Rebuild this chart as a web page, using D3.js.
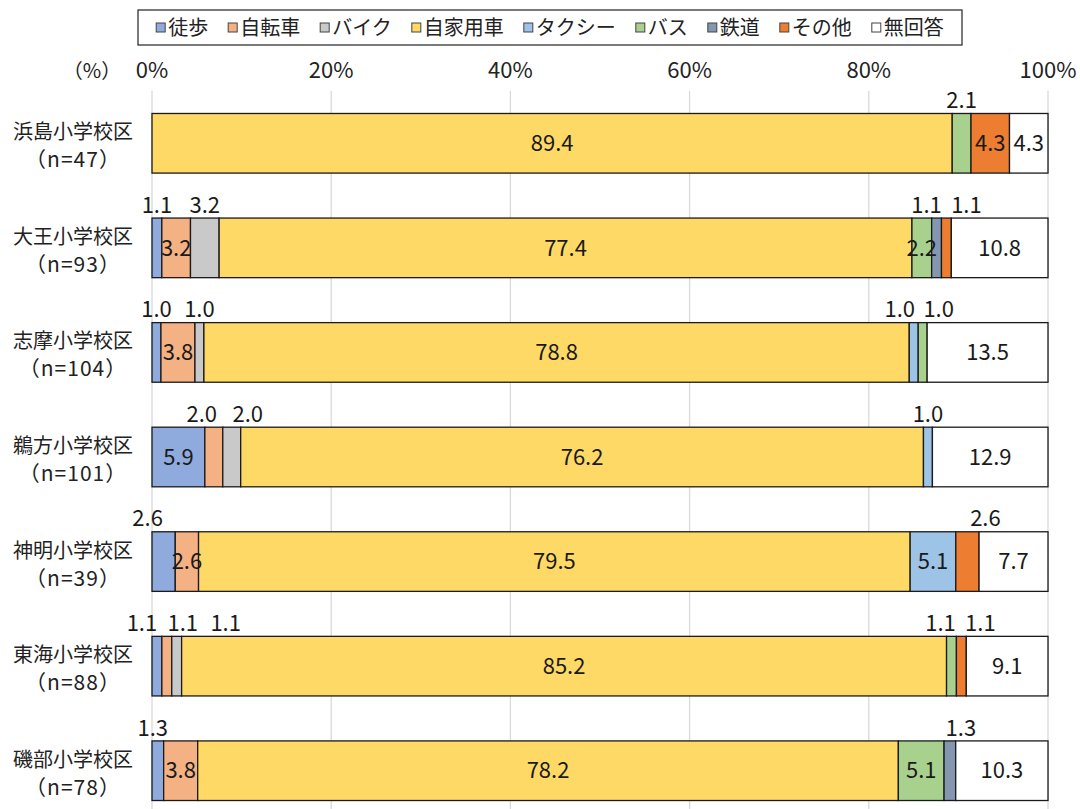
<!DOCTYPE html>
<html>
<head>
<meta charset="utf-8">
<script src="https://cdn.jsdelivr.net/npm/d3@7"></script>
<style>
  body { margin: 0; background: #fff; }
  svg { display: block; font-family: "Noto Sans CJK JP", "Noto Sans", sans-serif; }
</style>
</head>
<body>
<div id="chart"></div>
<script>
// categories
const schools = ["浜島小学校区", "大王小学校区", "志摩小学校区", "鵜方小学校区", "神明小学校区", "東海小学校区", "磯部小学校区"];
const sampleSizes = [47, 93, 104, 101, 39, 88, 78];
const modes = ["徒歩", "自転車", "バイク", "自家用車", "タクシー", "バス", "鉄道", "その他", "無回答"];
const tickLabels = ["0%", "20%", "40%", "60%", "80%", "100%"];

// series values (%), one per school
const walk      = [0, 1.1, 1.0, 5.9, 2.6, 1.1, 1.3];
const bicycle   = [0, 3.2, 3.8, 2.0, 2.6, 1.1, 3.8];
const motorbike = [0, 3.2, 1.0, 2.0, 0, 1.1, 0];
const car       = [89.4, 77.4, 78.8, 76.2, 79.5, 85.2, 78.2];
const taxi      = [0, 0, 1.0, 1.0, 5.1, 0, 0];
const bus       = [2.1, 2.2, 1.0, 0, 0, 1.1, 5.1];
const rail      = [0, 1.1, 0, 0, 0, 0, 1.3];
const other     = [4.3, 1.1, 0, 0, 2.6, 1.1, 0];
const noAnswer  = [4.3, 10.8, 13.5, 12.9, 7.7, 9.1, 10.3];

const seriesValues = [walk, bicycle, motorbike, car, taxi, bus, rail, other, noAnswer];
const colors = ["#8faadc", "#f4b183", "#c9c9c9", "#ffd966", "#9dc3e6", "#a9d18e", "#8497b0", "#ed7d31", "#ffffff"];

// labels drawn above the bar instead of inside: [school index, mode, horizontal nudge px]
const raisedLabels = [
  [0, "バス", 0],
  [1, "徒歩", 0], [1, "バイク", 0], [1, "鉄道", -10], [1, "その他", 20],
  [2, "徒歩", 0], [2, "バイク", 0], [2, "タクシー", -14], [2, "バス", 16],
  [3, "自転車", -12], [3, "バイク", 16], [3, "タクシー", 0],
  [4, "徒歩", -16], [4, "その他", 18],
  [5, "徒歩", -15], [5, "自転車", 16], [5, "バイク", 49], [5, "バス", -11], [5, "その他", 19],
  [6, "徒歩", -5], [6, "鉄道", 11]
];

const width = 1080, height = 809;
const plotLeft = 152, plotRight = 1048, plotTop = 91, plotBottom = 823;

// build table for d3.stack
const table = schools.map((s, i) => {
  const row = { school: s };
  modes.forEach((m, j) => { row[m] = seriesValues[j][i]; });
  return row;
});

const stacked = d3.stack()
  .keys(modes)
  .offset(d3.stackOffsetExpand)(table);

const x = d3.scaleLinear().domain([0, 1]).range([plotLeft, plotRight]);
const y = d3.scaleBand().domain(schools).range([plotTop, plotBottom])
  .paddingInner(0.43).paddingOuter(0.215);
const color = d3.scaleOrdinal().domain(modes).range(colors);

const svg = d3.select("#chart").append("svg")
  .attr("width", width)
  .attr("height", height);

svg.append("rect").attr("width", width).attr("height", height).attr("fill", "#fff");

// gridlines
svg.append("g")
  .selectAll("line")
  .data(d3.range(0, 1.0001, 0.2))
  .enter()
  .append("line")
    .attr("x1", d => x(d)).attr("x2", d => x(d))
    .attr("y1", plotTop).attr("y2", height)
    .attr("stroke", "#d9d9d9")
    .attr("stroke-width", 1.3);

// top axis tick labels
svg.append("g")
  .selectAll("text")
  .data(tickLabels)
  .enter()
  .append("text")
    .attr("x", (d, i) => x(i * 0.2))
    .attr("y", 78)
    .attr("text-anchor", "middle")
    .style("font-size", "22px")
    .attr("fill", "#222")
    .text(d => d);

svg.append("text")
  .attr("x", 92).attr("y", 78)
  .attr("text-anchor", "middle")
  .style("font-size", "20px")
  .attr("fill", "#222")
  .text("（%）");

// category labels
const cat = svg.append("g")
  .selectAll("text")
  .data(schools)
  .enter()
  .append("text")
    .attr("text-anchor", "middle")
    .style("font-size", "20px")
    .attr("fill", "#222");
cat.append("tspan")
  .attr("x", 73)
  .attr("y", d => y(d) + y.bandwidth() / 2 - 4)
  .text(d => d);
cat.append("tspan")
  .attr("x", 73)
  .attr("y", d => y(d) + y.bandwidth() / 2 + 24)
  .style("font-size", "21px")
  .style("letter-spacing", "1px")
  .text((d, i) => "（n=" + sampleSizes[i] + "）");

// bars
const layers = svg.append("g")
  .selectAll("g")
  .data(stacked)
  .enter()
  .append("g")
    .attr("fill", d => color(d.key));

layers.selectAll("rect")
  .data(d => d.filter(v => v[1] - v[0] > 0))
  .enter()
  .append("rect")
    .attr("x", d => x(d[0]))
    .attr("y", d => y(d.data.school))
    .attr("width", d => x(d[1]) - x(d[0]))
    .attr("height", y.bandwidth())
    .attr("stroke", "#1a1a1a")
    .attr("stroke-width", 1.3);

// data labels
const labels = [];
stacked.forEach(layer => {
  layer.forEach((d, i) => {
    const value = d.data[layer.key];
    if (!value) return;
    const raised = raisedLabels.find(r => r[0] === i && r[1] === layer.key);
    labels.push({
      value: value,
      cx: (x(d[0]) + x(d[1])) / 2 + (raised ? raised[2] : 0),
      cy: raised ? y(d.data.school) - 13 : y(d.data.school) + y.bandwidth() / 2
    });
  });
});

svg.append("g")
  .selectAll("text")
  .data(labels)
  .enter()
  .append("text")
    .attr("x", d => d.cx)
    .attr("y", d => d.cy)
    .attr("dy", "0.35em")
    .attr("text-anchor", "middle")
    .style("font-size", "22px")
    .attr("fill", "#1a1a1a")
    .text(d => d.value.toFixed(1));

// legend
const legend = svg.append("g");
legend.append("rect")
  .attr("x", 138).attr("y", 10)
  .attr("width", 824).attr("height", 35)
  .attr("fill", "#fff")
  .attr("stroke", "#333")
  .attr("stroke-width", 1.3);

const items = legend.selectAll("g.item")
  .data(modes)
  .enter()
  .append("g")
    .attr("class", "item");
items.append("rect")
  .attr("width", 9).attr("height", 9)
  .attr("y", 23)
  .attr("fill", d => color(d))
  .attr("stroke", "#444")
  .attr("stroke-width", 1);
items.append("text")
  .attr("x", 12)
  .attr("y", 35)
  .style("font-size", "20px")
  .attr("fill", "#222")
  .text(d => d);

let widths = [];
items.each(function() {
  widths.push(12 + d3.select(this).select("text").node().getComputedTextLength());
});
const gap = 20;
const total = d3.sum(widths) + gap * (widths.length - 1);
let cursor = 138 + (824 - total) / 2;
items.attr("transform", (d, i) => {
  const t = "translate(" + cursor + ",0)";
  cursor += widths[i] + gap;
  return t;
});
</script>
</body>
</html>
